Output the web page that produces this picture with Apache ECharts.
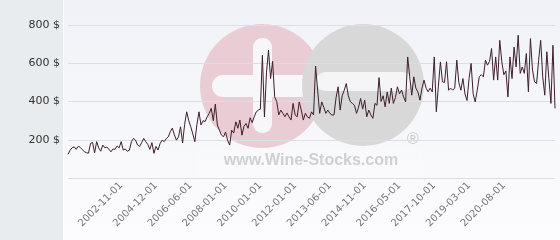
<!DOCTYPE html>
<html>
<head>
<meta charset="utf-8">
<script src="https://cdn.jsdelivr.net/npm/echarts@6/dist/echarts.min.js"></script>
<style>html,body{margin:0;padding:0;}#c{width:560px;height:240px;}</style>
</head>
<body>
<div id="c"></div>
<script>
// Months present in the category axis, per year
const monthsByYear = [
  '2000:9,10,11,12',
  '2001:1,2,3,4,5,6,7,8,9,10,11,12',
  '2002:1,2,3,4,5,6,7,8,9,10,11,12',
  '2003:1,3,4,6,7,9,10,12',
  '2004:1,3,4,6,7,9,10,12',
  '2005:1,2,3,4,5,6,8,9,10,11,12',
  '2006:1,2,3,4,5,6,7,8,9,11,12',
  '2007:1,2,3,4,6,7,8,9,10,11,12',
  '2008:1,2,4,5,7,8,10,11',
  '2009:1,2,4,5,7,8,10,11,12',
  '2010:1,2,4,5,7,8,10,11',
  '2011:1,2,4,5,7,8,10,11,12',
  '2012:1,2,3,4,5,6,7,8,9,10,11,12',
  '2013:1,2,3,4,5,6,7,8,9,10,11,12',
  '2014:1,2,3,4,5,6,7,8,9,10,11,12',
  '2015:1,2,3,4,5,6,7,9,10,11,12',
  '2016:1,2,3,4,5,6,7,8,9,10,11,12',
  '2017:1,2,3,4,5,6,7,8,9,10,11,12',
  '2018:1,2,3,4,5,6,7,8,9,10,11,12',
  '2019:1,2,3,4,5,6,7,8,9,10,11,12',
  '2020:1,2,3,4,5,6,7,8,9,10,11,12',
  '2021:1,2,3,4,5,6,7,8,9,10,11,12',
  '2022:1,2,3,4,5,6,7,8,9'
];

const tickLabels = ['2002-11-01','2004-12-01','2006-06-01','2008-01-01','2010-01-01','2012-01-01',
  '2013-06-01','2014-11-01','2016-05-01','2017-10-01','2019-03-01','2020-08-01'];

const yTicks = [0, 200, 400, 600, 800];

const prices = [
  124,145,158,163,150,166,160,148,138,132,130,180,186,132,190,158,140,172,158,162,
  150,137,152,150,167,158,190,146,152,140,145,190,207,198,172,165,185,207,190,175,
  150,185,129,165,146,180,198,190,205,215,242,261,225,198,215,268,183,280,346,300,
  268,230,190,280,346,277,300,295,320,338,364,300,386,277,250,224,216,240,198,172,
  250,235,294,260,303,224,270,285,260,315,290,320,346,355,360,642,320,550,668,520,
  610,424,400,330,355,338,320,340,320,303,390,330,320,398,355,303,338,320,312,346,
  330,585,459,338,398,370,338,355,338,329,330,420,477,355,430,459,494,430,398,390,
  380,338,370,416,360,407,320,355,330,312,390,380,525,400,430,372,450,390,470,390,
  420,477,440,460,424,398,633,529,433,529,470,450,407,470,512,470,451,470,450,633,
  346,480,607,503,500,608,459,470,459,470,616,500,459,520,440,405,520,599,440,398,
  459,530,540,529,616,590,610,677,512,633,512,720,608,540,560,424,633,520,685,581,
  746,547,580,547,651,451,729,564,503,494,616,720,529,433,660,520,390,694,364
];

const categories = [];
monthsByYear.forEach(function (s) {
  const parts = s.split(':');
  parts[1].split(',').forEach(function (m) {
    categories.push(parts[0] + '-' + (m.length < 2 ? '0' + m : m) + '-01');
  });
});

const chart = echarts.init(document.getElementById('c'), null, {renderer: 'canvas'});
chart.setOption({
  animation: false,
  backgroundColor: '#ffffff',
  grid: {left: 68, right: 5, top: 25, bottom: 62},
  graphic: {
    elements: [
      {type: 'rect', z: -20, silent: true, shape: {x: 0, y: 0, width: 63, height: 240}, style: {fill: '#e8ecef'}},
      {type: 'rect', z: -20, silent: true, shape: {x: 64, y: 0, width: 496, height: 240},
        style: {fill: new echarts.graphic.LinearGradient(0, 0, 0, 1, [
          {offset: 0, color: '#f1f2f7'}, {offset: 1, color: '#fcfcfe'}])}},
      {type: 'rect', z: -19, silent: true, shape: {x: 197, y: 150, width: 225, height: 28}, style: {fill: 'rgba(255,255,255,0.2)'}},
      {type: 'circle', z: -18, silent: true, shape: {cx: 262, cy: 86, r: 62}, style: {fill: '#eacdd4'}},
      {type: 'rect', z: -17, silent: true, shape: {x: 253, y: 38, width: 19, height: 95, r: 9}, style: {fill: '#f7f7fa'}},
      {type: 'rect', z: -17, silent: true, shape: {x: 212, y: 75, width: 100, height: 22, r: 11}, style: {fill: '#f7f7fa'}},
      {type: 'circle', z: -16, silent: true, shape: {cx: 363, cy: 85, r: 61}, style: {fill: '#d8d8d9'}},
      {type: 'rect', z: -15, silent: true, shape: {x: 316, y: 72, width: 96, height: 19, r: 9.5}, style: {fill: '#f5f5f8'}},
      {type: 'text', z: -15, silent: true, style: {x: 311, y: 161, text: 'www.Wine-Stocks.com', fill: '#d0d0d2',
        font: 'bold 16px "Liberation Sans", Arial, sans-serif', textAlign: 'center', textVerticalAlign: 'middle'}},
      {type: 'text', z: -15, silent: true, style: {x: 413, y: 140, text: '®', fill: '#c9c9cb',
        font: '16px "Liberation Sans", Arial, sans-serif', textAlign: 'center', textVerticalAlign: 'middle'}}
    ]
  },
  xAxis: {
    type: 'category',
    data: categories,
    boundaryGap: false,
    axisLine: {show: false},
    axisTick: {show: false},
    splitLine: {show: false},
    axisLabel: {
      rotate: 45,
      margin: 6,
      color: '#777',
      fontSize: 10,
      fontFamily: 'DejaVu Sans',
      interval: function (idx, val) { return tickLabels.indexOf(val) >= 0; }
    }
  },
  yAxis: {
    type: 'value',
    min: yTicks[0],
    max: yTicks[yTicks.length - 1],
    interval: 200,
    axisLine: {show: false},
    axisTick: {show: false},
    splitLine: {lineStyle: {color: '#dddee3', width: 1}},
    axisLabel: {
      margin: 8,
      color: '#333',
      fontSize: 11,
      fontFamily: 'DejaVu Sans',
      formatter: function (v) { return v === 0 ? '' : v + ' $'; }
    }
  },
  series: [{
    type: 'line',
    data: prices,
    symbol: 'none',
    z: 10,
    lineStyle: {color: '#3d1f2b', width: 1},
    itemStyle: {color: '#3d1f2b'}
  }]
});
</script>
</body>
</html>
